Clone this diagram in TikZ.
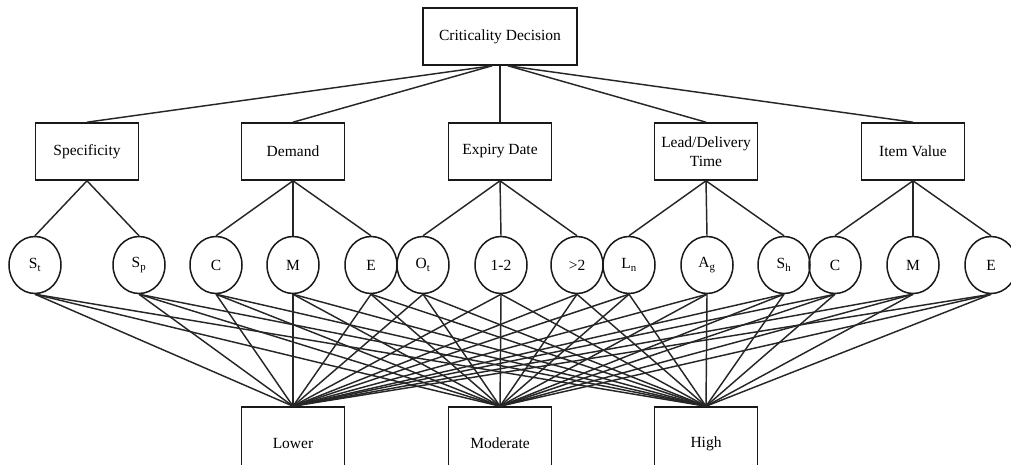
\documentclass[tikz,border=0pt]{standalone}
\usepackage{fontspec}
\setmainfont{Liberation Serif}
\usetikzlibrary{shapes.geometric}
\tikzset{
  box/.style={draw=black!90, line width=1.6pt, rectangle, minimum width=103pt, minimum height=57pt, inner sep=2pt, align=center, font=\fontsize{15.5}{19}\selectfont},
  topbox/.style={box, minimum width=154pt},
  outbox/.style={box, minimum height=73pt},
  opt/.style={draw=black!90, line width=1.5pt, ellipse, minimum width=52pt, minimum height=57pt, inner sep=0pt, font=\fontsize{15.5}{19}\selectfont},
  link/.style={draw=black!85, line width=1.45pt}
}
\begin{document}
\begin{tikzpicture}[x=1pt,y=-1pt]
\clip (0,0) rectangle (1011,465);
\fill[white] (0,0) rectangle (1011,465);
% top
\node[topbox] (top) at (500,36.5) {Criticality Decision};
% criteria
\node[box] (spec) at (87,151.5) {Specificity};
\node[box] (dem) at (293,151.5) {Demand};
\node[box] (exp) at (500,151.5) {Expiry Date};
\node[box] (lead) at (706,151.5) {Lead/Delivery\\Time};
\node[box] (item) at (913,151.5) {Item Value};
% options
\node[opt] (o1) at (35,265) {S\textsubscript{t}};
\node[opt] (o2) at (139,265) {S\textsubscript{p}};
\node[opt] (o3) at (216,265) {C};
\node[opt] (o4) at (293,265) {M};
\node[opt] (o5) at (371,265) {E};
\node[opt] (o6) at (423,265) {O\textsubscript{t}};
\node[opt] (o7) at (501,265) {1-2};
\node[opt] (o8) at (577,265) {>2};
\node[opt] (o9) at (629,265) {L\textsubscript{n}};
\node[opt] (o10) at (707,265) {A\textsubscript{g}};
\node[opt] (o11) at (784,265) {S\textsubscript{h}};
\node[opt] (o12) at (835,265) {C};
\node[opt] (o13) at (913,265) {M};
\node[opt] (o14) at (991,265) {E};
% outcomes
\node[outbox] (low) at (293,443.5) {Lower};
\node[outbox] (mod) at (500,443.5) {Moderate};
\node[outbox] (high) at (706,443.5) {High};
% top links
\draw[link] ([xshift=-8pt]top.south) -- (spec.north);
\draw[link] ([xshift=-8pt]top.south) -- (dem.north);
\draw[link] (top.south) -- (exp.north);
\draw[link] ([xshift=8pt]top.south) -- (lead.north);
\draw[link] ([xshift=8pt]top.south) -- (item.north);
% criteria to options
\foreach \c/\o in {spec/o1, spec/o2, dem/o3, dem/o4, dem/o5, exp/o6, exp/o7, exp/o8, lead/o9, lead/o10, lead/o11, item/o12, item/o13, item/o14}
  \draw[link] (\c.south) -- (\o.north);
% options to outcomes
\foreach \o in {o1,o2,o3,o4,o5,o6,o7,o8,o9,o10,o11,o12,o13,o14}
  \foreach \r in {low,mod,high}
    \draw[link] (\o.south) -- (\r.north);
\end{tikzpicture}
\end{document}
